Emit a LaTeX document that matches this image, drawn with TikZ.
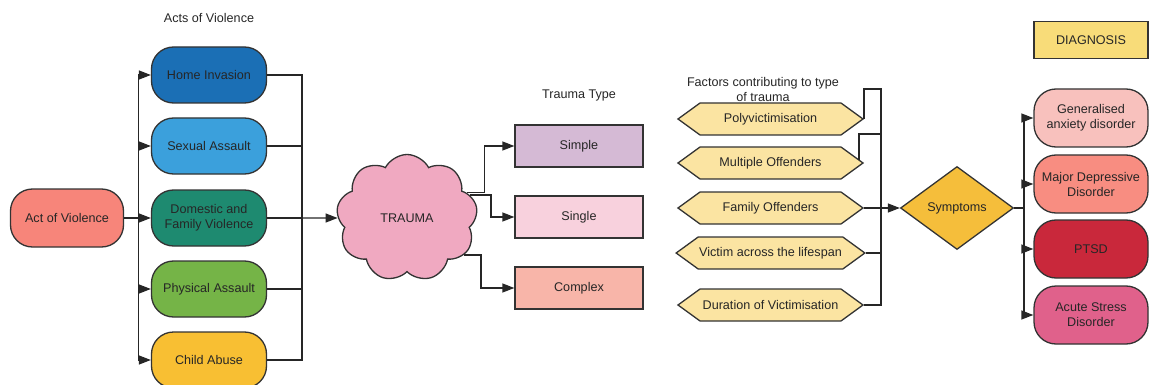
\documentclass[tikz,border=0pt]{standalone}
\usepackage{fontspec}
\setmainfont{Liberation Sans}
\usetikzlibrary{shapes.geometric,shapes.symbols,arrows.meta,positioning}

\definecolor{actred}{HTML}{F7857A}
\definecolor{homeblue}{HTML}{1B6FB5}
\definecolor{sexblue}{HTML}{3BA0DC}
\definecolor{domgreen}{HTML}{1E8A70}
\definecolor{physgreen}{HTML}{75B447}
\definecolor{childyellow}{HTML}{F8BF33}
\definecolor{cloudpink}{HTML}{F0A9C1}
\definecolor{simplepurple}{HTML}{D5BAD5}
\definecolor{singlepink}{HTML}{F8D1DD}
\definecolor{complexsalmon}{HTML}{F8B5A9}
\definecolor{hexfill}{HTML}{FBE4A2}
\definecolor{symptomgold}{HTML}{F5BE3B}
\definecolor{diagyellow}{HTML}{F8DC79}
\definecolor{gadpink}{HTML}{F8C1BD}
\definecolor{mddsalmon}{HTML}{F88D81}
\definecolor{ptsdred}{HTML}{C9283B}
\definecolor{asdpink}{HTML}{E0618B}

\begin{document}
\begin{tikzpicture}[x=1pt,y=-1pt,
    every node/.style={font=\fontsize{12.6}{15}\selectfont, text=black!85},
    actbox/.style={draw=black!80, line width=1.3pt, rounded corners=22pt,
        minimum width=115pt, minimum height=56pt, align=center},
    typebox/.style={draw=black!80, line width=1.3pt, minimum width=128pt, minimum height=42pt},
    factor/.style={draw=black!80, line width=1.3pt, signal, signal to=east and west,
        signal pointer angle=72, fill=hexfill, minimum width=185pt, minimum height=32pt, inner sep=1pt},
    link/.style={line width=1.3pt, draw=black!85},
    arr/.style={link, -{Triangle[length=12pt,width=9pt]}}]
    \useasboundingbox (0,0) rectangle (1154,385);

    % Titles
    \node (actstitle) at (209,18) {Acts of Violence};
    \node (typetitle) at (579,95) {Trauma Type};
    \node[align=center] (factortitle) at (763,89) {Factors contributing to type\\of trauma};
    \node[draw=black!80, line width=1.3pt, fill=diagyellow, minimum width=114pt, minimum height=37pt] (diag) at (1091,40) {DIAGNOSIS};

    % Acts of violence
    \node[actbox, fill=actred, minimum width=113pt, minimum height=58pt] (act) at (67,218) {Act of Violence};
    \foreach \name/\y/\col/\txt in {home/75/homeblue/Home Invasion, sexual/146/sexblue/Sexual Assault,
        domestic/218/domgreen/{Domestic and\\Family Violence}, physical/289/physgreen/Physical Assault,
        child/360/childyellow/Child Abuse} {
        \node[actbox, fill=\col] (\name) at (209,\y) {\txt};
        \draw[arr] (act.east) -- ++(14.5,0) |- (\name.west);
    }
    \coordinate (rbus) at (302,218);
    \foreach \name in {home,sexual,domestic,physical,child}
        \draw[link] (\name.east) -| (rbus);

    % Trauma cloud and types
    \node[cloud, draw=black!80, line width=1.3pt, fill=cloudpink, cloud puffs=9, cloud puff arc=125,
        aspect=1.1, minimum width=141pt, minimum height=127pt] (trauma) at (407,218) {TRAUMA};
    \draw[arr] (domestic.east) -- (trauma.west);

    \node[typebox, fill=simplepurple] (simple) at (579,146) {Simple};
    \node[typebox, fill=singlepink] (single) at (579,217) {Single};
    \node[typebox, fill=complexsalmon] (complex) at (579,288) {Complex};
    \draw[arr] (trauma.23) -- ++(18,0) |- (simple.west);
    \draw[arr] (trauma.20) -- ++(21,0) |- (single.west);
    \draw[arr] (trauma.-33) -- ++(17,0) |- (complex.west);

    % Contributing factors
    \foreach \name/\y/\txt in {poly/119/Polyvictimisation, multi/163/Multiple Offenders,
        family/208/Family Offenders, victim/253/Victim across the lifespan,
        duration/305/Duration of Victimisation}
        \node[factor] (\name) at (770.5,\y) {\txt};
    \coordinate (ftop) at (881,89);
    \coordinate (fmid) at (881,134);
    \draw[link] (poly.east) |- (ftop) |- (duration.east);
    \draw[link] (multi.east) ++(-5,-3) |- (fmid);
    \draw[link] (victim.east) -- (victim.east -| ftop);

    % Symptoms and diagnoses
    \node[diamond, draw=black!80, line width=1.3pt, fill=symptomgold, aspect=1.36, inner sep=1pt,
        minimum width=113pt, minimum height=83pt] (symptoms) at (957,208) {Symptoms};
    \draw[arr] (family.east) -- (symptoms.west);

    \node[actbox, fill=gadpink, minimum width=114pt, minimum height=58pt] (gad) at (1091,118) {Generalised\\anxiety disorder};
    \node[actbox, fill=mddsalmon, minimum width=114pt, minimum height=58pt] (mdd) at (1091,184) {Major Depressive\\Disorder};
    \node[actbox, fill=ptsdred, minimum width=114pt, minimum height=58pt] (ptsd) at (1091,249) {PTSD};
    \node[actbox, fill=asdpink, minimum width=114pt, minimum height=58pt] (asd) at (1091,315) {Acute Stress\\Disorder};
    \coordinate (sbus) at (1024,208);
    \draw[link] (symptoms.east) -- (sbus);
    \foreach \name in {gad,mdd,ptsd,asd}
        \draw[arr] (sbus) |- (\name.west);
\end{tikzpicture}
\end{document}
